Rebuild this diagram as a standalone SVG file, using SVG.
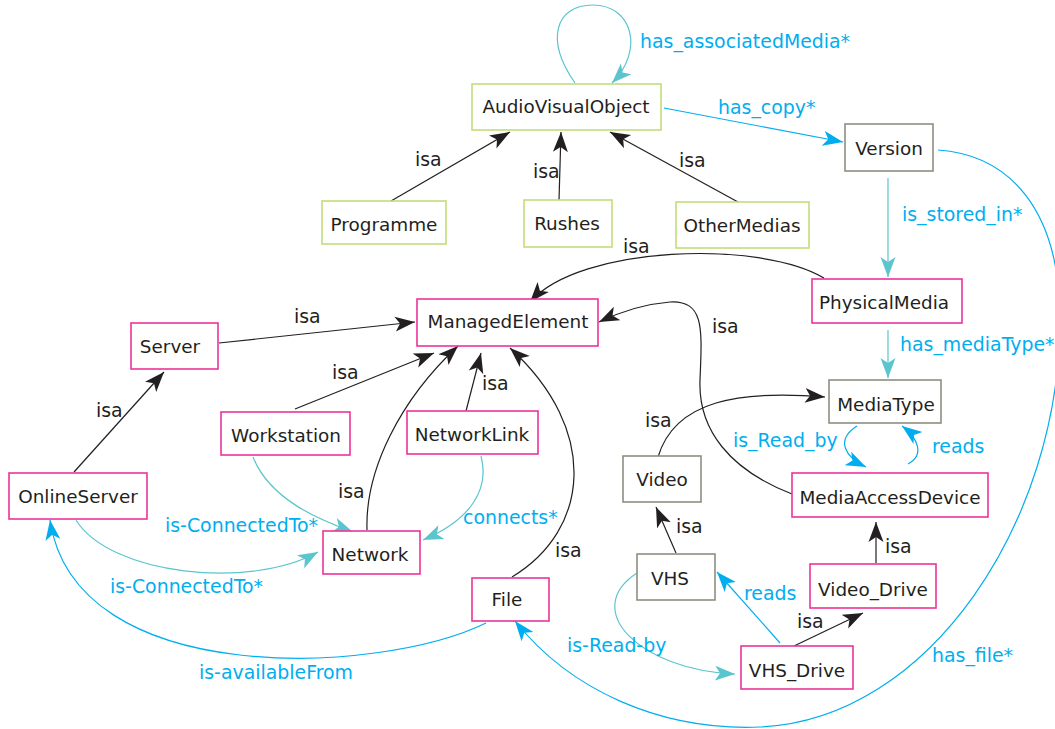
<svg xmlns="http://www.w3.org/2000/svg" width="1055" height="729" viewBox="0 0 1055 729">
<style>
text{font-family:"DejaVu Sans","Verdana",sans-serif;font-size:18.9px}
.n text{fill:#231f20;text-anchor:middle;font-size:18.4px}
.g rect{fill:#fff;stroke:#c3dc7a;stroke-width:1.6}
.p rect{fill:#fff;stroke:#ee3399;stroke-width:1.6}
.y rect{fill:#fff;stroke:#8e8e80;stroke-width:1.6}
.e path{fill:none;stroke-width:1.2}
.k{stroke:#231f20}
.t{stroke:#5bc5cd}
.b{stroke:#00aeef}
.lk{fill:#231f20}
.lb{fill:#00aeef}
</style>
<defs>
<marker id="ak" markerUnits="userSpaceOnUse" markerWidth="22" markerHeight="18" refX="20" refY="8" orient="auto"><path d="M0,0.5 L20,8 L0,15.5 L5,8 Z" fill="#231f20"/></marker>
<marker id="at" markerUnits="userSpaceOnUse" markerWidth="22" markerHeight="18" refX="20" refY="8" orient="auto"><path d="M0,0.5 L20,8 L0,15.5 L5,8 Z" fill="#5bc5cd"/></marker>
<marker id="ab" markerUnits="userSpaceOnUse" markerWidth="22" markerHeight="18" refX="20" refY="8" orient="auto"><path d="M0,0.5 L20,8 L0,15.5 L5,8 Z" fill="#00aeef"/></marker>
</defs>
<rect width="1055" height="729" fill="#fff"/>
<g id="connectors" class="e">
<path class="t" d="M575,83 C545,40 555,5 593,5 C632,5 645,50 612,83" marker-end="url(#at)"/>
<path class="b" d="M664,108 L843,142" marker-end="url(#ab)"/>
<path class="k" d="M391,201 L510,132" marker-end="url(#ak)"/>
<path class="k" d="M559,200 L561,132" marker-end="url(#ak)"/>
<path class="k" d="M738,202 L610,132" marker-end="url(#ak)"/>
<path class="t" d="M888,178 L888,277" marker-end="url(#at)"/>
<path class="t" d="M888,330 L888,378" marker-end="url(#at)"/>
<path class="b" d="M938,150 C1010,155 1060,210 1060,320 C1060,520 930,720 760,727 C660,731 570,690 515,621" marker-end="url(#ab)"/>
<path class="b" d="M486,623 C380,675 75,690 50,520" marker-end="url(#ab)"/>
<path class="t" d="M76,520 C110,575 250,590 318,552" marker-end="url(#at)"/>
<path class="t" d="M253,457 C270,500 320,520 353,532" marker-end="url(#at)"/>
<path class="t" d="M481,456 C490,490 470,520 423,540" marker-end="url(#at)"/>
<path class="k" d="M219,343 L415,322" marker-end="url(#ak)"/>
<path class="k" d="M74,472 L164,372" marker-end="url(#ak)"/>
<path class="k" d="M295,409 L434,353" marker-end="url(#ak)"/>
<path class="k" d="M367,530 C365,470 400,400 458,346" marker-end="url(#ak)"/>
<path class="k" d="M466,411 L481,353" marker-end="url(#ak)"/>
<path class="k" d="M512,577 C590,530 600,430 510,348" marker-end="url(#ak)"/>
<path class="k" d="M824,278 C760,240 580,245 530,302" marker-end="url(#ak)"/>
<path class="k" d="M792,494 C730,470 698,430 700,380 C702,330 705,300 670,302 C645,304 620,312 599,322" marker-end="url(#ak)"/>
<path class="k" d="M658,457 C675,400 740,390 825,397" marker-end="url(#ak)"/>
<path class="b" d="M857,426 C835,440 845,457 866,467" marker-end="url(#ab)"/>
<path class="b" d="M908,464 C925,455 918,438 902,426" marker-end="url(#ab)"/>
<path class="k" d="M676,553 L656,507" marker-end="url(#ak)"/>
<path class="k" d="M876,563 L876,522" marker-end="url(#ak)"/>
<path class="k" d="M794,646 L863,613" marker-end="url(#ak)"/>
<path class="b" d="M780,643 L717,572" marker-end="url(#ab)"/>
<path class="t" d="M637,573 C580,610 640,670 735,674" marker-end="url(#at)"/>
</g>
<g id="labels">
<text class="lb" x="640" y="48">has_associatedMedia*</text>
<text class="lb" x="718" y="114">has_copy*</text>
<text class="lk" x="415" y="166">isa</text>
<text class="lk" x="533" y="178">isa</text>
<text class="lk" x="679" y="167">isa</text>
<text class="lb" x="902" y="221">is_stored_in*</text>
<text class="lk" x="623" y="253">isa</text>
<text class="lk" x="294" y="323">isa</text>
<text class="lk" x="712" y="333">isa</text>
<text class="lb" x="900" y="351">has_mediaType*</text>
<text class="lk" x="332" y="379">isa</text>
<text class="lk" x="96" y="417">isa</text>
<text class="lk" x="482" y="390">isa</text>
<text class="lk" x="645" y="427">isa</text>
<text class="lb" x="733" y="447">is_Read_by</text>
<text class="lb" x="932" y="453">reads</text>
<text class="lk" x="338" y="498">isa</text>
<text class="lb" x="165" y="532">is-ConnectedTo*</text>
<text class="lb" x="463" y="524">connects*</text>
<text class="lk" x="676" y="533">isa</text>
<text class="lk" x="885" y="553">isa</text>
<text class="lk" x="555" y="557">isa</text>
<text class="lb" x="110" y="593">is-ConnectedTo*</text>
<text class="lb" x="744" y="600">reads</text>
<text class="lk" x="797" y="628">isa</text>
<text class="lb" x="567" y="652">is-Read-by</text>
<text class="lb" x="932" y="662">has_file*</text>
<text class="lb" x="199" y="679">is-availableFrom</text>
</g>
<g id="AudioVisualObject" class="n g"><rect x="472" y="84" width="189" height="46"/><text x="566" y="113">AudioVisualObject</text></g>
<g id="Version" class="n y"><rect x="845" y="124" width="88" height="47"/><text x="889" y="155">Version</text></g>
<g id="Programme" class="n g"><rect x="322" y="201" width="124" height="43"/><text x="384" y="231">Programme</text></g>
<g id="Rushes" class="n g"><rect x="524" y="200" width="88" height="47"/><text x="567" y="230">Rushes</text></g>
<g id="OtherMedias" class="n g"><rect x="676" y="202" width="133" height="46"/><text x="742" y="232">OtherMedias</text></g>
<g id="ManagedElement" class="n p"><rect x="417" y="299" width="181" height="47"/><text x="508" y="328">ManagedElement</text></g>
<g id="PhysicalMedia" class="n p"><rect x="812" y="279" width="150" height="44"/><text x="884" y="309">PhysicalMedia</text></g>
<g id="Server" class="n p"><rect x="131" y="323" width="87" height="46"/><text x="170" y="353">Server</text></g>
<g id="Workstation" class="n p"><rect x="221" y="412" width="129" height="43"/><text x="286" y="442">Workstation</text></g>
<g id="NetworkLink" class="n p"><rect x="407" y="411" width="131" height="43"/><text x="472" y="441">NetworkLink</text></g>
<g id="MediaType" class="n y"><rect x="829" y="380" width="112" height="43"/><text x="886" y="411">MediaType</text></g>
<g id="OnlineServer" class="n p"><rect x="9" y="473" width="138" height="46"/><text x="78" y="503">OnlineServer</text></g>
<g id="Video" class="n y"><rect x="623" y="456" width="78" height="46"/><text x="662" y="486">Video</text></g>
<g id="MediaAccessDevice" class="n p"><rect x="792" y="473" width="196" height="44"/><text x="890" y="504">MediaAccessDevice</text></g>
<g id="Network" class="n p"><rect x="323" y="531" width="97" height="43"/><text x="370" y="561">Network</text></g>
<g id="VHS" class="n y"><rect x="637" y="554" width="78" height="46"/><text x="670" y="585">VHS</text></g>
<g id="Video_Drive" class="n p"><rect x="810" y="564" width="126" height="44"/><text x="873" y="596">Video_Drive</text></g>
<g id="File" class="n p"><rect x="472" y="578" width="77" height="43"/><text x="507" y="606">File</text></g>
<g id="VHS_Drive" class="n p"><rect x="741" y="646" width="112" height="43"/><text x="797" y="677">VHS_Drive</text></g>
</svg>
